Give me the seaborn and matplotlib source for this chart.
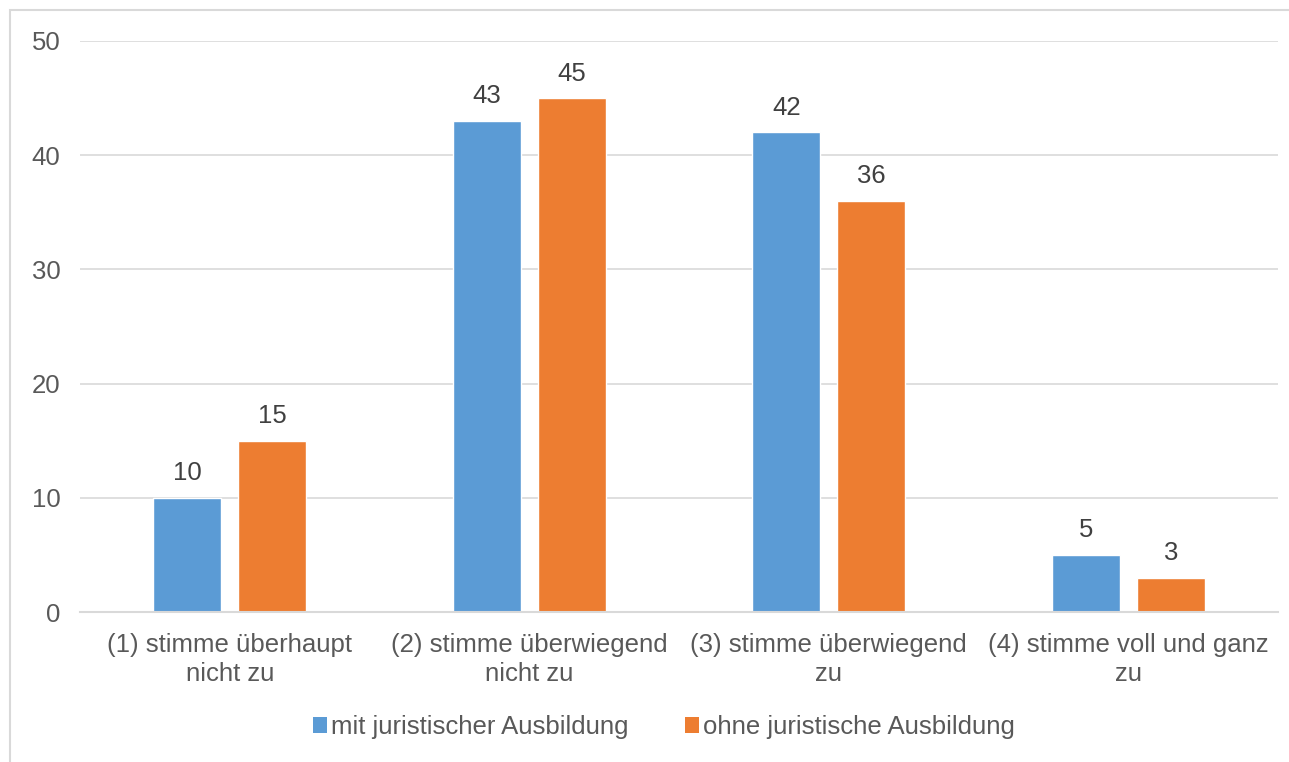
import matplotlib
matplotlib.use("Agg")
import matplotlib.pyplot as plt
import seaborn as sns
import pandas as pd
from matplotlib.patches import Rectangle, Patch

categories = ["(1) stimme überhaupt\nnicht zu", "(2) stimme überwiegend\nnicht zu",
              "(3) stimme überwiegend\nzu", "(4) stimme voll und ganz\nzu"]
series_names = ["mit juristischer Ausbildung", "ohne juristische Ausbildung"]
mit_values = [10, 43, 42, 5]
ohne_values = [15, 45, 36, 3]
colors = ["#5B9BD5", "#ED7D31"]

rows = []
for c, v in zip(categories, mit_values):
    rows.append({"cat": c, "series": series_names[0], "val": v})
for c, v in zip(categories, ohne_values):
    rows.append({"cat": c, "series": series_names[1], "val": v})
df = pd.DataFrame(rows)

sns.set_theme(style="white")
plt.rcParams["font.family"] = ["Liberation Sans", "DejaVu Sans"]

FS = 18.5
fig = plt.figure(figsize=(12.89, 7.62), dpi=100)
ax = fig.add_axes([80/1289, 1-612/762, (1278-80)/1289, (612-41)/762])

sns.barplot(data=df, x="cat", y="val", hue="series", order=categories,
            hue_order=series_names, palette=colors, width=0.568, gap=0.2,
            saturation=1, ax=ax, legend=False)

ax.set_ylim(0, 50)
ax.set_yticks(range(0, 51, 10))
ax.set_xlim(-0.5, len(categories) - 0.5)
ax.yaxis.grid(True, color="#D9D9D9", linewidth=1.2)
ax.set_axisbelow(True)
for s in ["top", "right", "left"]:
    ax.spines[s].set_visible(False)
ax.spines["bottom"].set_color("#D9D9D9")
ax.spines["bottom"].set_linewidth(1.5)
ax.tick_params(axis="both", length=0, labelsize=FS, labelcolor="#595959")
ax.tick_params(axis="y", pad=14)
ax.tick_params(axis="x", pad=15)
ax.set_xlabel("")
ax.set_ylabel("")
for t in ax.get_xticklabels():
    t.set_linespacing(1.25)

for cont in ax.containers:
    ax.bar_label(cont, fmt="%d", padding=9, fontsize=FS, color="#404040")

handles = [Patch(facecolor=c, edgecolor="none") for c in colors]
fig.legend(handles, series_names, loc="center", bbox_to_anchor=(0.515, 1-727/762),
           ncol=2, frameon=False, fontsize=FS, handlelength=0.55, handleheight=0.55,
           handletextpad=0.15, columnspacing=2.2, labelcolor="#595959")

fig.patches.append(Rectangle((10/1289, -0.1), 1.2, 1 - 10/762 + 0.1, transform=fig.transFigure,
                             fill=False, edgecolor="#D9D9D9", linewidth=1.5, zorder=0))

fig.savefig("out.png", dpi=100)
